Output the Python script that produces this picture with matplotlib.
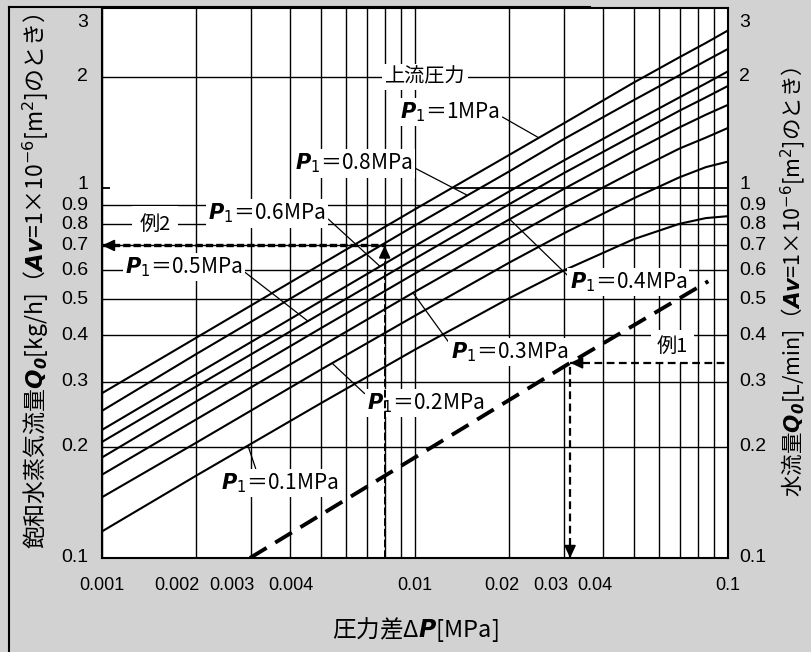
import matplotlib
matplotlib.use('Agg')
import matplotlib.pyplot as plt
from matplotlib.lines import Line2D
from matplotlib.ticker import NullLocator

# pressure difference dP [MPa]
dp = [0.001, 0.002, 0.005, 0.01, 0.02, 0.03, 0.05, 0.07, 0.085, 0.1]

# saturated steam flow Q0 [kg/h], one list per upstream pressure
q_p1_10 = [0.279, 0.394, 0.622, 0.877, 1.23, 1.50, 1.93, 2.26, 2.47, 2.67]
q_p1_08 = [0.250, 0.356, 0.562, 0.793, 1.11, 1.36, 1.73, 2.02, 2.21, 2.38]
q_p1_06 = [0.222, 0.314, 0.495, 0.698, 0.980, 1.19, 1.51, 1.76, 1.92, 2.07]
q_p1_05 = [0.206, 0.291, 0.458, 0.645, 0.905, 1.10, 1.39, 1.62, 1.76, 1.89]
q_p1_04 = [0.187, 0.265, 0.418, 0.588, 0.823, 0.997, 1.26, 1.46, 1.58, 1.68]
q_p1_03 = [0.168, 0.237, 0.373, 0.525, 0.732, 0.885, 1.11, 1.28, 1.37, 1.455]
q_p1_02 = [0.146, 0.205, 0.323, 0.452, 0.629, 0.756, 0.939, 1.07, 1.14, 1.18]
q_p1_01 = [0.118, 0.167, 0.262, 0.366, 0.504, 0.600, 0.728, 0.801, 0.830, 0.840]
steam_curves = [q_p1_10, q_p1_08, q_p1_06, q_p1_05, q_p1_04, q_p1_03, q_p1_02, q_p1_01]

# water flow [L/min] (dashed)
water_dp = [0.00297, 0.0313, 0.0865]
water_q = [0.1, 0.337, 0.56]

# worked examples
ex1_dp, ex1_q = 0.0313, 0.337
ex2_dp, ex2_q = 0.008, 0.7

ytick_vals = [0.1, 0.2, 0.3, 0.4, 0.5, 0.6, 0.7, 0.8, 0.9, 1, 2, 3]
ytick_text = ['0.1', '0.2', '0.3', '0.4', '0.5', '0.6', '0.7', '0.8', '0.9', '1', '2', '3']
ygrid_vals = [0.2, 0.3, 0.4, 0.5, 0.6, 0.7, 0.8, 0.9, 2]
xgrid_vals = [0.001, 0.002, 0.003, 0.004, 0.005, 0.006, 0.007, 0.008, 0.009,
              0.01, 0.02, 0.03, 0.04, 0.05, 0.06, 0.07, 0.08, 0.09, 0.1]
xtick_vals = [0.001, 0.002, 0.003, 0.004, 0.01, 0.02, 0.03, 0.04, 0.1]
xtick_text = ['0.001', '0.002', '0.003', '0.004', '0.01', '0.02', '0.03', '0.04', '0.1']

jp = 'Noto Sans CJK JP'
num = ['Liberation Sans', 'DejaVu Sans']

fig = plt.figure(figsize=(8.11, 6.52), dpi=100, facecolor='#d2d2d2')
ax = fig.add_axes([102/811, 1-558/652, 626/811, 550/652])
ax.set_facecolor('white')
ax.set_xscale('log')
ax.set_yscale('log')
ax.set_xlim(0.001, 0.1)
ax.set_ylim(0.1, 3.07)
ax.set_xticks([])
ax.set_yticks([])
ax.xaxis.set_minor_locator(NullLocator())
ax.yaxis.set_minor_locator(NullLocator())

# grid (the 1.0 line is broken in the original)
ax.vlines(xgrid_vals, 0.1, 3.07, color='k', lw=1.0, zorder=1)
ax.hlines(ygrid_vals, 0.001, 0.1, color='k', lw=1.0, zorder=1)
ax.hlines([1, 1], [0.001, 0.0133], [0.00106, 0.1], color='k', lw=1.3, zorder=1)

for s in ax.spines.values():
    s.set_linewidth(1.5)

# tick labels, placed by hand like the original
ytick_dy = {'3': -8, '1': 2.5}
for v, s in zip(ytick_vals, ytick_text):
    dy = ytick_dy.get(s, 0)
    ax.annotate(s, xy=(0, v), xycoords=('axes fraction', 'data'), xytext=(-10, dy),
                textcoords='offset points', ha='right', va='center',
                fontsize=14, fontfamily=num, annotation_clip=False)
    ax.annotate(s, xy=(1, v), xycoords=('axes fraction', 'data'), xytext=(8, dy),
                textcoords='offset points', ha='left', va='center',
                fontsize=14, fontfamily=num, annotation_clip=False)
xtick_dx = [0, -14, -14, 0, 0, -5, -10, -6, 0]
for v, s, dx in zip(xtick_vals, xtick_text, xtick_dx):
    ax.annotate(s, xy=(v, 0), xycoords=('data', 'axes fraction'), xytext=(dx, -19.5),
                textcoords='offset points', ha='center', va='center',
                fontsize=13, fontfamily=num, annotation_clip=False)

# steam curves
for q in steam_curves:
    ax.plot(dp, q, color='k', lw=1.5, zorder=3)

# water line
ax.plot(water_dp, water_q, color='k', lw=2.8, dashes=(5, 2.6), zorder=5)

# example 1
ax.plot([ex1_dp, 0.1], [ex1_q, ex1_q], color='k', lw=1.6, dashes=(3.5, 2), zorder=5)
ax.plot([ex1_dp, ex1_dp], [0.1, ex1_q], color='k', lw=1.6, dashes=(3.5, 2), zorder=5)
# example 2
ax.plot([0.001, ex2_dp], [ex2_q, ex2_q], color='k', lw=2.4, dashes=(2.2, 0.9), zorder=5)
ax.plot([ex2_dp, ex2_dp], [0.1, ex2_q], color='k', lw=1.4, dashes=(4, 1.5), zorder=5)

head = dict(arrowstyle='-|>,head_length=0.75,head_width=0.35', color='k', lw=1.2,
            shrinkA=0, shrinkB=0, mutation_scale=10)
for tip, off in [((0.001, ex2_q), (9, 0)), ((ex2_dp, ex2_q), (0, -9)),
                 ((ex1_dp, ex1_q), (9, 0)), ((ex1_dp, 0.1), (0, 9))]:
    ax.annotate('', xy=tip, xytext=off, textcoords='offset points',
                arrowprops=head, zorder=6)

box = dict(boxstyle='square,pad=0.12', fc='white', ec='none')
lead = dict(arrowstyle='-', color='k', lw=0.9, shrinkA=0, shrinkB=0)

ax.text(0.01076, 2.0, '上流圧力', fontfamily=jp, fontsize=14.5, ha='center', va='center',
        bbox=box, zorder=4)

# (label, text position, leader end, leader start on text box)
p_labels = [
    ('1', (0.01293, 1.606), (0.0248, 1.37), (1.0, 0.35)),
    ('0.8', (0.00638, 1.167), (0.01468, 0.957), (1.0, 0.35)),
    ('0.6', (0.003368, 0.8555), (0.00773, 0.6145), (1.0, 0.35)),
    ('0.5', (0.001828, 0.6121), (0.00455, 0.437), (1.0, 0.35)),
    ('0.4', (0.04802, 0.5572), (0.0201, 0.823), (0.0, 0.7)),
    ('0.3', (0.02003, 0.3604), (0.00984, 0.522), (0.0, 0.8)),
    ('0.2', (0.01083, 0.2624), (0.00544, 0.336), (0.0, 0.8)),
    ('0.1', (0.003705, 0.1595), (0.00293, 0.2007), (0.3, 1.0)),
]
for name, pos, end, rel in p_labels:
    arr = dict(lead, relpos=rel)
    ax.annotate('$\\mathbfit{P}_{\\mathit{1}}$＝' + name + 'MPa', xy=end, xytext=pos,
                fontfamily=jp, fontsize=15, ha='center', va='center',
                bbox=box, arrowprops=arr, zorder=4)

ax.text(0.001477, 0.8, '例2', fontfamily=jp, fontsize=14.5, ha='center', va='center',
        bbox=dict(boxstyle='square,pad=0.35', fc='white', ec='none'), zorder=4)
ax.text(0.0664, 0.374, '例1', fontfamily=jp, fontsize=14.5, ha='center', va='center',
        bbox=dict(boxstyle='square,pad=0.3', fc='white', ec='none'), zorder=4)

# axis titles
fig.text(36/811, 1-281/652,
         '飽和水蒸気流量$\\mathbfit{Q_0}$[kg/h]（$\\mathbfit{Av}$=1×10$^{-6}$[m$^2$]のとき）',
         rotation=90, ha='center', va='center', fontfamily=jp, fontsize=16.5)
fig.text(793/811, 1-282/652,
         '水流量$\\mathbfit{Q_0}$[L/min]（$\\mathbfit{Av}$=1×10$^{-6}$[m$^2$]のとき）',
         rotation=90, ha='center', va='center', fontfamily=jp, fontsize=15.5)
fig.text(415/811, 1-630/652, '圧力差Δ$\\mathbfit{P}$[MPa]', ha='center', va='center',
         fontfamily=jp, fontsize=17)

# scan border
fig.add_artist(Line2D([9/811, 9/811], [0, 1-7/652], color='k', lw=1.5,
                      transform=fig.transFigure))
fig.add_artist(Line2D([9/811, 590/811], [1-7/652, 1-7/652], color='k', lw=1.5,
                      transform=fig.transFigure))

fig.savefig('out.png', dpi=100, facecolor=fig.get_facecolor())
